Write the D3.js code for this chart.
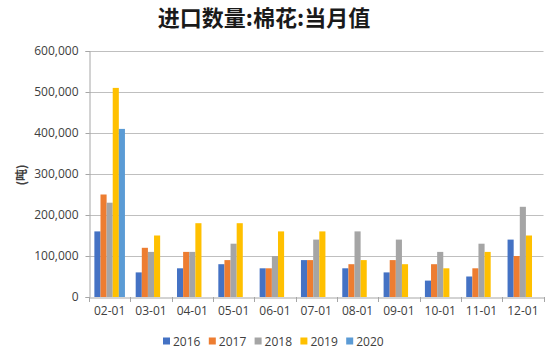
<!DOCTYPE html>
<html><head><meta charset="utf-8">
<script src="https://cdn.jsdelivr.net/npm/d3@7"></script>
<style>body{margin:0;background:#fff;}svg{display:block;}</style>
</head><body><svg id="c" width="550" height="359"></svg>
<script>
const categories = ["02-01","03-01","04-01","05-01","06-01","07-01","08-01","09-01","10-01","11-01","12-01"];
const seriesNames = ["2016","2017","2018","2019","2020"];
const s2016 = [160000,60000,70000,80000,70000,90000,70000,60000,40000,50000,140000];
const s2017 = [250000,120000,110000,90000,70000,90000,80000,90000,80000,70000,100000];
const s2018 = [230000,110000,110000,130000,100000,140000,160000,140000,110000,130000,220000];
const s2019 = [510000,150000,180000,180000,160000,160000,90000,80000,70000,110000,150000];
const s2020 = [410000,null,null,null,null,null,null,null,null,null,null];
const yTicks = [0,100000,200000,300000,400000,500000,600000];
const colors = ["#4472C4","#ED7D31","#A5A5A5","#FFC000","#5B9BD5"];
const seriesValues = [s2016,s2017,s2018,s2019,s2020];

const svg = d3.select("#c");
const L = 89, R = 543.5, T = 51, B = 297;
const font = "'Open Sans','Liberation Sans',sans-serif";
const x = d3.scaleBand().domain(categories).range([L,R]).paddingInner(0.26).paddingOuter(0.13);
const x0 = d3.scaleBand().domain(categories).range([L,R]);
const xs = d3.scaleBand().domain(seriesNames).range([0,x.bandwidth()]);
const y = d3.scaleLinear().domain([0,600000]).range([B,T]);

// gridlines
svg.append("g").selectAll("line").data(yTicks.filter(d=>d>0)).join("line")
  .attr("x1",L).attr("x2",R).attr("y1",d=>y(d)+0.5).attr("y2",d=>y(d)+0.5)
  .attr("stroke","#BFBFBF").attr("stroke-width",1);

// bars
seriesValues.forEach((vals,si)=>{
  svg.append("g").selectAll("rect").data(vals.map((v,i)=>({c:categories[i],v}))).join("rect")
    .filter(d=>d.v!=null)
    .attr("x",d=>x(d.c)+xs(seriesNames[si]))
    .attr("width",xs.bandwidth())
    .attr("y",d=>y(d.v))
    .attr("height",d=>B-y(d.v))
    .attr("fill",colors[si]);
});

// y axis
const yAxis = d3.axisLeft(y).tickValues(yTicks).tickSize(4).tickFormat(d3.format(","));
const gy = svg.append("g").attr("transform",`translate(${L+0.5},0)`).call(yAxis);
gy.select(".domain").attr("stroke","#A6A6A6");
gy.selectAll(".tick line").attr("stroke","#A6A6A6");
gy.selectAll("text").attr("font-family",font).attr("font-size",12).attr("fill","#404040").attr("x",-11);

// x axis
const gx = svg.append("g").attr("transform",`translate(0,${B+0.5})`)
  .call(d3.axisBottom(x0).tickSize(0).tickPadding(9));
gx.select(".domain").attr("stroke","#A6A6A6");
gx.selectAll("text").attr("font-family",font).attr("font-size",12).attr("fill","#404040");
svg.append("g").selectAll("line").data(d3.range(categories.length+1)).join("line")
  .attr("x1",i=>Math.round(L+i*x0.step())+0.5).attr("x2",i=>Math.round(L+i*x0.step())+0.5)
  .attr("y1",B).attr("y2",B+5).attr("stroke","#A6A6A6");

// title
svg.append("text").attr("x",264).attr("y",26).attr("text-anchor","middle")
  .attr("font-family","'Noto Sans CJK SC',sans-serif").attr("font-weight","bold").attr("font-size",22)
  .attr("fill","#1a1a1a").text("进口数量:棉花:当月值");

// y title
svg.append("text").attr("transform","translate(26,175) rotate(-90)").attr("text-anchor","middle")
  .attr("font-family","'Noto Sans CJK SC',sans-serif").attr("font-weight","bold").attr("font-size",12)
  .attr("fill","#404040").text("(吨)");

// legend
const lg = svg.append("g").selectAll("g").data(seriesNames).join("g")
  .attr("transform",(d,i)=>`translate(${163+i*45.8},341)`);
lg.append("rect").attr("x",0).attr("y",-3.5).attr("width",7).attr("height",7).attr("fill",(d,i)=>colors[i]);
lg.append("text").attr("x",10).attr("y",4.5).attr("font-family",font).attr("font-size",12)
  .attr("fill","#404040").text(d=>d);
</script></body></html>
